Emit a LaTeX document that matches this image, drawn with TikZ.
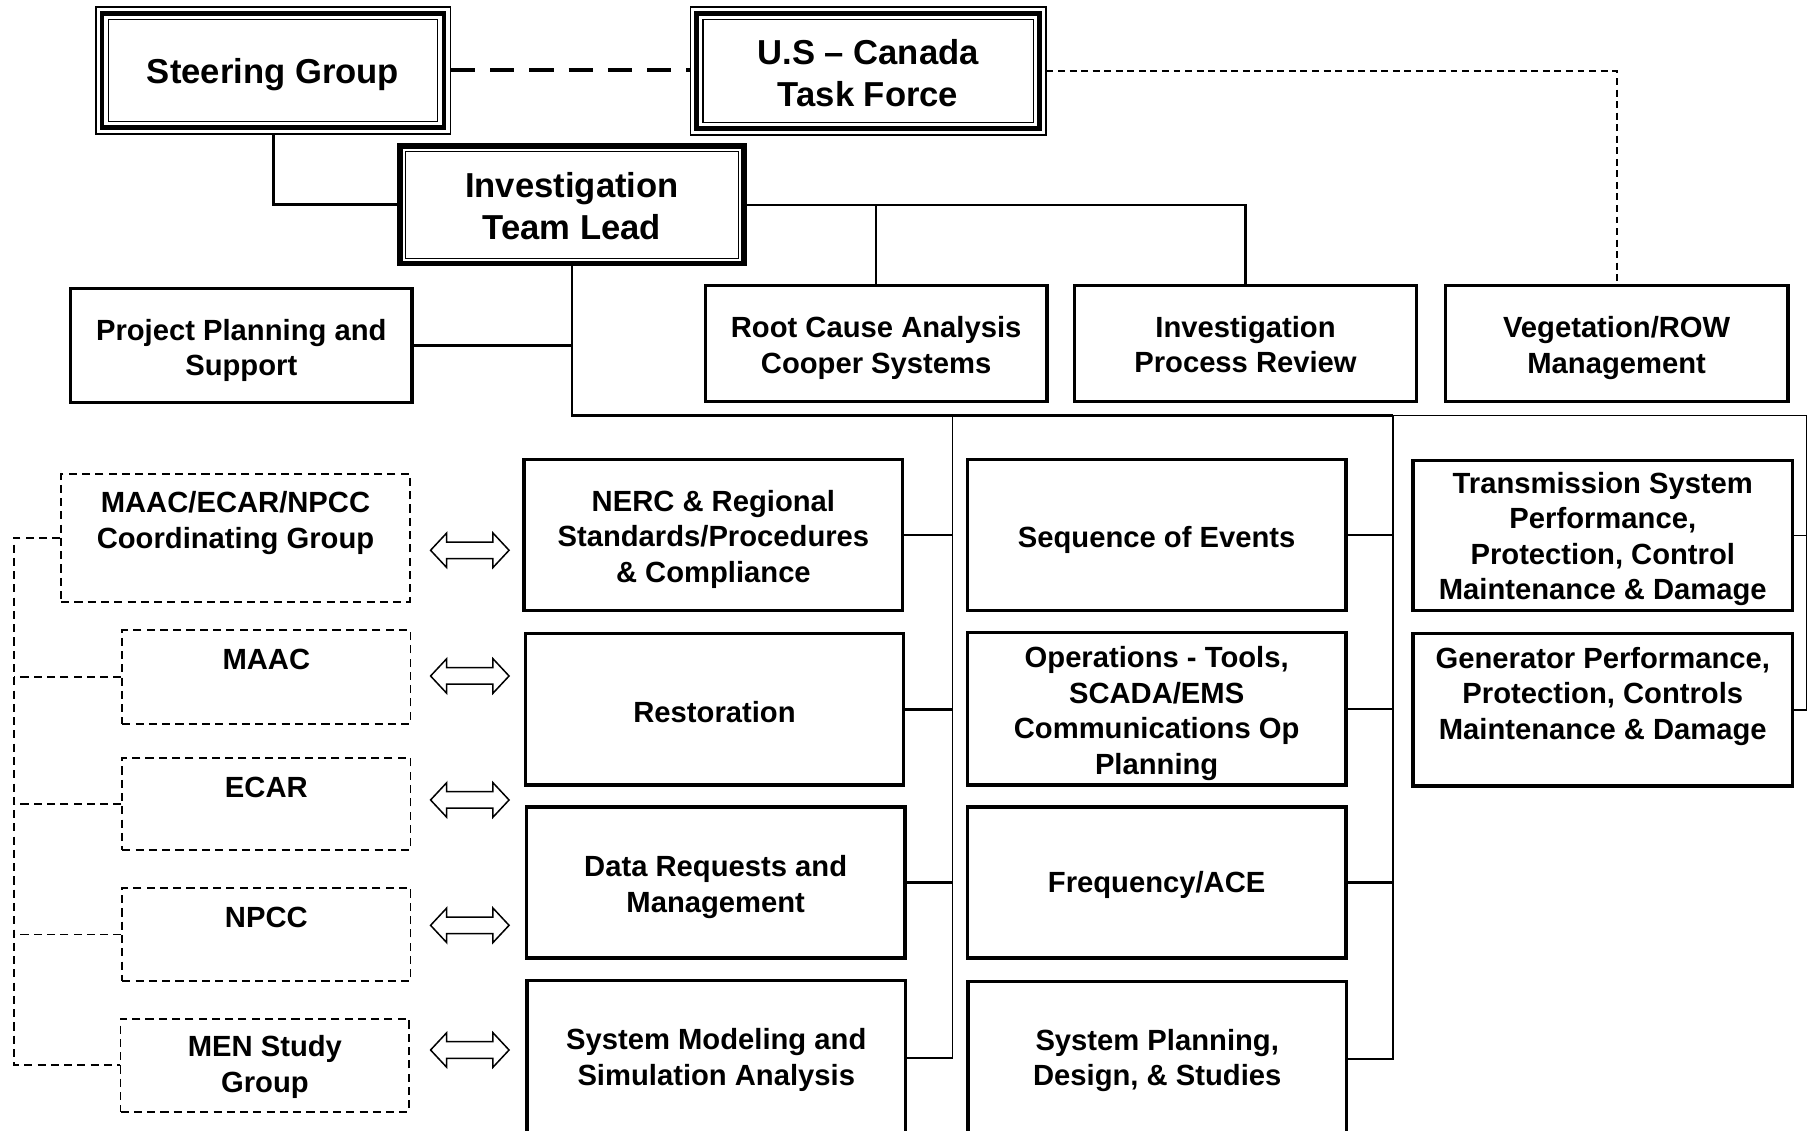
\documentclass[tikz,border=0pt]{standalone}
\usepackage{fontspec}
\setmainfont{Liberation Sans}
\usetikzlibrary{calc}

% thin-thick-thin frame around a named box
\newcommand\tripleframe[1]{%
  \draw[line width=4.2pt] ([xshift=6pt,yshift=-6pt]#1.north west) rectangle ([xshift=-6pt,yshift=6pt]#1.south east);
  \draw[line width=1.2pt] ([xshift=11.5pt,yshift=-11.5pt]#1.north west) rectangle ([xshift=-11.5pt,yshift=11.5pt]#1.south east);}
% hollow two-headed arrow centred on a named coordinate
\newcommand\biarrow[1]{%
  \draw[hollow] ($(#1)+(-34,0)$) -- ++(14,-15) -- ++(0,7.85) -- ++(40,0) -- ++(0,-7.85)
    -- ++(14,15) -- ++(-14,15) -- ++(0,-7.85) -- ++(-40,0) -- ++(0,7.85) -- cycle;}

\tikzset{
  every node/.style={font=\bfseries\fontsize{25.3}{30.8}\selectfont, align=center, inner sep=0pt},
  txt/.style={},
  title/.style={font=\bfseries\fontsize{30}{36}\selectfont},
  box/.style={draw, line width=2.8pt},
  thinbox/.style={draw, line width=1.2pt},
  colbox/.style={box, minimum width=328pt, minimum height=131pt},
  topbox/.style={box, minimum width=296pt, minimum height=100pt},
  dbox/.style={draw, line width=1.5pt, dash pattern=on 7pt off 4.5pt},
  dbus/.style={line width=1.6pt, dash pattern=on 7pt off 4.5pt},
  conn/.style={line width=2.2pt},
  thinconn/.style={line width=1.4pt},
  tie/.style={line width=3.5pt, dash pattern=on 21pt off 13pt},
  liaison/.style={line width=1.5pt, dash pattern=on 6pt off 4pt},
  hollow/.style={line width=1.3pt, fill=white, line join=miter},
}

\begin{document}
\begin{tikzpicture}[x=1pt,y=-1pt]
\fill[white] (0,0) rectangle (1568,979);
\clip (0,0) rectangle (1568,979);

% ---- top of the organisation ----
\node[thinbox, minimum width=307pt, minimum height=110pt] (sg) at (236.5,61) {};
\tripleframe{sg}
\node[txt, title, yshift=-4pt] (sg-t) at (sg) {Steering Group};
\node[thinbox, minimum width=308pt, minimum height=111pt] (tf) at (752,61.5) {};
\tripleframe{tf}
\node[txt, title, yshift=-2pt] (tf-t) at (tf) {U.S – Canada\\Task Force};
\node[draw, line width=5pt, minimum width=297.5pt, minimum height=101.5pt] (itl) at (495.5,177.5) {};
\draw[line width=1.2pt] ([xshift=7pt,yshift=-7pt]itl.north west) rectangle ([xshift=-7pt,yshift=7pt]itl.south east);
\node[txt, title, yshift=-1pt] (itl-t) at (itl) {Investigation\\Team Lead};

% ---- second row ----
\node[topbox, minimum height=99pt] (ppl) at (209,299.5) {};
\node[txt, yshift=-4pt] (ppl-t) at (ppl) {Project Planning and\\Support};
\node[topbox] (rca) at (759,297.5) {};
\node[txt, yshift=-4pt] (rca-t) at (rca) {Root Cause Analysis\\Cooper Systems};
\node[topbox] (ipr) at (1079,297.5) {};
\node[txt, yshift=-1pt] (ipr-t) at (ipr) {Investigation\\Process Review};
\node[topbox, minimum width=297pt] (veg) at (1400.5,297.5) {};
\node[txt, yshift=-4pt] (veg-t) at (veg) {Vegetation/ROW\\Management};

% ---- working groups, column 1 ----
\node[colbox] (nerc) at (618,463.5) {};
\node[txt, yshift=-3.5pt] (nerc-t) at (nerc) {NERC \& Regional\\Standards/Procedures\\\& Compliance};
\node[colbox] (rest) at (619,614.5) {};
\node[txt, yshift=-2pt] (rest-t) at (rest) {Restoration};
\node[colbox] (dreq) at (620,764.5) {};
\node[txt, yshift=-4pt] (dreq-t) at (dreq) {Data Requests and\\Management};
\node[colbox, minimum height=134.5pt] (sim) at (620.5,916.75) {};
\node[txt, yshift=-1.5pt] (sim-t) at (sim) {System Modeling and\\Simulation Analysis};

% ---- working groups, column 2 ----
\node[colbox] (seq) at (1002,463.5) {};
\node[txt, yshift=-4pt] (seq-t) at (seq) {Sequence of Events};
\node[colbox, minimum height=132pt] (ops) at (1002,614) {};
\node[txt, yshift=-4pt] (ops-t) at (ops) {Operations - Tools,\\SCADA/EMS\\Communications Op\\Planning};
\node[colbox] (freq) at (1002,764.5) {};
\node[txt, yshift=-2pt] (freq-t) at (freq) {Frequency/ACE};
\node[colbox, minimum height=133.5pt] (sps) at (1002.5,917.25) {};
\node[txt, yshift=-1.5pt] (sps-t) at (sps) {System Planning,\\Design, \& Studies};

% ---- working groups, column 3 ----
\node[colbox, minimum width=329pt, minimum height=130.4pt] (trans) at (1388.5,463.8) {};
\node[txt, yshift=-3pt] (trans-t) at (trans) {Transmission System\\Performance,\\Protection, Control\\Maintenance \& Damage};
\node[colbox, minimum width=329pt, minimum height=132pt] (gen) at (1388.5,615) {};
\node[txt] (gen-t) at (1388.5,603) {Generator Performance,\\Protection, Controls\\Maintenance \& Damage};

% ---- regional councils ----
\node[dbox, minimum width=302pt, minimum height=111pt] (cg) at (204,466) {};
\node[txt] (cg-t) at (204,453.3) {MAAC/ECAR/NPCC\\Coordinating Group};
\node[dbox, minimum width=249.5pt, minimum height=81pt] (maac) at (230.75,586.5) {};
\node[txt] (maac-t) at (230.75,571.6) {MAAC};
\node[dbox, minimum width=249.5pt, minimum height=80pt] (ecar) at (230.75,696.5) {};
\node[txt] (ecar-t) at (230.75,682) {ECAR};
\node[dbox, minimum width=249.5pt, minimum height=81pt] (npcc) at (230.75,809.5) {};
\node[txt] (npcc-t) at (230.75,794.9) {NPCC};
\node[dbox, minimum width=250pt, minimum height=80.5pt] (men) at (229.5,922.75) {};
\node[txt, yshift=-1.5pt] (men-t) at (men) {MEN Study\\Group};

% ---- connectors ----
\draw[tie] (sg.east) -- (sg.east -| tf.west);
\draw[liaison] (tf.east) -| (veg.north);
\draw[line width=2.6pt] (sg.south) |- (itl.west);
\draw[conn] (itl.east) -| (ipr.north);
\draw[conn] (rca.north) -- (rca.north |- itl.east);

\coordinate (t1) at (825,360);
\coordinate (t2) at (1207,360);
\coordinate (t3) at (1565,360);
\draw[conn] (itl.south) |- (t2);
\draw[conn] (ppl.east) -- (ppl.east -| itl.south);
\draw[thinconn] (t2) -- (t3) |- (gen.east);
\draw[thinconn] (trans.east) -- (trans.east -| t3);
\draw[thinconn] (t1) |- (sim.east);
\draw[thinconn] (t2) |- (sps.east);
\foreach \b in {nerc,rest,dreq} \draw[conn] (\b.east) -- (\b.east -| t1);
\foreach \b in {seq,ops,freq} \draw[conn] (\b.east) -- (\b.east -| t2);

\coordinate (lx) at (12,0);
\draw[dbus] (cg.west) -| (men.west -| lx) -- (men.west);
\foreach \b in {maac,ecar,npcc} \draw[dbus] (\b.west) -- (\b.west -| lx);

% ---- liaison arrows ----
\coordinate (a1) at (407,476.7);
\coordinate (a2) at (407,585.6);
\coordinate (a3) at (407,693);
\coordinate (a4) at (407,801.6);
\coordinate (a5) at (407,909.6);
\foreach \a in {a1,a2,a3,a4,a5} {\biarrow{\a}}
\end{tikzpicture}
\end{document}
